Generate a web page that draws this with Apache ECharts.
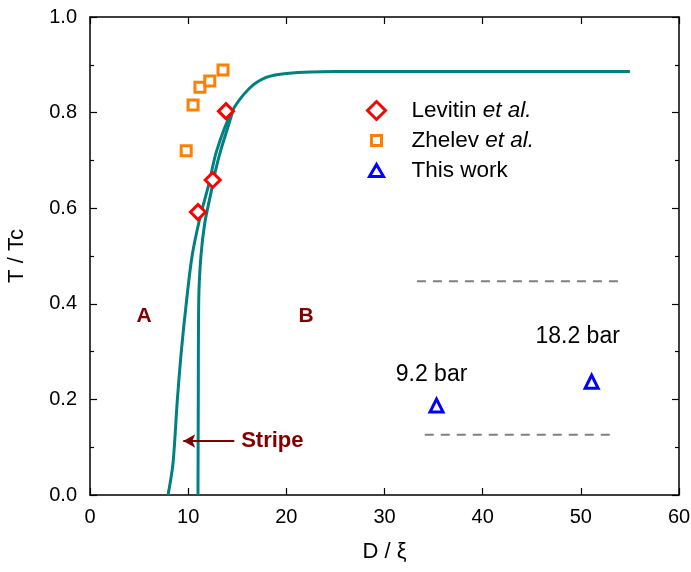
<!DOCTYPE html>
<html><head><meta charset="utf-8">
<script src="https://cdn.jsdelivr.net/npm/echarts@6/dist/echarts.min.js"></script>
<style>html,body{margin:0;padding:0;background:#fff}#c{width:691px;height:572px}</style>
</head><body><div id="c"></div>
<script>
// Phase boundary curves (D/xi, T/Tc)
const curveOuter = [[7.95,0],[8.45,0.065],[8.9,0.2],[9.3,0.3],[9.8,0.4],[10.4,0.5],[11.2,0.58],[12.1,0.65],[12.9,0.72],[14.4,0.8],[16.2,0.85],[18.0,0.874],[20.0,0.882],[25.0,0.886],[55.0,0.886]];
const curveInner = [[11.0,0],[11.03,0.2],[11.08,0.41],[11.3,0.5],[11.7,0.57],[12.3,0.63],[12.8,0.68],[13.3,0.72],[13.9,0.76],[14.5,0.8]];
// Data points
const levitin = [[11.0,0.592],[12.5,0.659],[13.85,0.803]];
const zhelev = [[9.8,0.72],[10.5,0.816],[11.2,0.853],[12.2,0.866],[13.55,0.889]];
const thisWork = [[35.3,0.187],[51.1,0.237]];
const thisWorkLabels = ['9.2 bar','18.2 bar'];
// Dashed reference lines
const dashUpper = [[33.3,0.447],[54.1,0.447]];
const dashLower = [[34.1,0.126],[53.6,0.126]];
// Annotations
const regionLabels = [{name:'A',value:[5.5,0.374]},{name:'B',value:[22.0,0.374]}];
const stripeLabel = [{name:'Stripe',value:[15.4,0.113]}];
const stripeArrow = [[14.7,0.113],[9.5,0.113]];
const legendNames = ['Levitin','Zhelev','This work'];

const font = 'Liberation Sans, Arial, sans-serif';
const chart = echarts.init(document.getElementById('c'), null, {renderer:'canvas'});
const axisCommon = {
  axisLine:{show:true,onZero:false,lineStyle:{color:'#000',width:1.5}},
  axisTick:{show:true,inside:true,length:7,lineStyle:{color:'#000',width:1.2}},
  splitLine:{show:false}
};
const legendRich = {
  n:{fontFamily:font,fontSize:22.5,color:'#000'},
  i:{fontFamily:font,fontSize:22.5,color:'#000',fontStyle:'italic'}
};
function mkLegend(name, left, top, w, h, pad){
  return {
    orient:'vertical', left:left, top:top, itemWidth:w, itemHeight:h, padding:0,
    selectedMode:false,
    data:[name],
    itemStyle:{borderWidth:3},
    formatter:function(n){
      if(n==='Levitin') return '{n|Levitin }{i|et al.}';
      if(n==='Zhelev') return '{n|Zhelev }{i|et al.}';
      return '{n|This work}';
    },
    textStyle:{padding:[0,0,0,pad],rich:legendRich}
  };
}
chart.setOption({
  animation:false,
  grid:{left:90,right:12,top:17,bottom:77,containLabel:false,outerBoundsMode:'none'},
  legend:[
    mkLegend(legendNames[0],366,99,18,18,21),
    mkLegend(legendNames[1],370,129,10,10,25),
    mkLegend(legendNames[2],368,159,14,12,23)
  ],
  xAxis:[
    Object.assign({type:'value',min:0,max:60,interval:10,position:'bottom',
      name:'D / ξ',nameLocation:'middle',nameGap:46,
      nameTextStyle:{fontFamily:font,fontSize:22,color:'#000'},
      axisLabel:{fontFamily:font,fontSize:20,color:'#000',margin:12},
      minorTick:{show:false}},axisCommon),
    Object.assign({type:'value',min:0,max:60,interval:10,position:'top',
      axisLabel:{show:false}},axisCommon)
  ],
  yAxis:[
    Object.assign({type:'value',min:0,max:1,interval:0.2,position:'left',
      name:'T / Tc',nameLocation:'middle',nameGap:62,nameRotate:90,
      nameTextStyle:{fontFamily:font,fontSize:22,color:'#000'},
      axisLabel:{fontFamily:font,fontSize:20,color:'#000',margin:13,formatter:v=>v.toFixed(1)},
      minorTick:{show:true,splitNumber:2,length:4,lineStyle:{color:'#000',width:1.2}}},axisCommon),
    Object.assign({type:'value',min:0,max:1,interval:0.2,position:'right',
      axisLabel:{show:false},
      minorTick:{show:true,splitNumber:2,length:4,lineStyle:{color:'#000',width:1.2}}},axisCommon)
  ],
  series:[
    {type:'line',data:curveOuter,smooth:0.3,symbol:'none',lineStyle:{color:'#008080',width:3},z:2},
    {type:'line',data:curveInner,smooth:0.3,symbol:'none',lineStyle:{color:'#008080',width:3},z:2},
    {type:'line',data:dashUpper,symbol:'none',lineStyle:{color:'#808080',width:2,type:[9,7]}},
    {type:'line',data:dashLower,symbol:'none',lineStyle:{color:'#808080',width:2,type:[9,7]}},
    {name:'Levitin',type:'scatter',data:levitin,symbol:'diamond',symbolSize:15,
      itemStyle:{color:'#fff',borderColor:'#ff0000',borderWidth:3,opacity:1},z:5},
    {name:'Zhelev',type:'scatter',data:zhelev,symbol:'rect',symbolSize:10,
      itemStyle:{color:'#fff',borderColor:'#ff8000',borderWidth:3,opacity:1},z:5},
    {name:'This work',type:'scatter',data:thisWork.map((p,i)=>({value:p,label:{formatter:thisWorkLabels[i],offset:i===0?[-5,2]:[-14,-13]}})),
      symbol:'triangle',symbolSize:13,
      itemStyle:{color:'#fff',borderColor:'#0000ff',borderWidth:3,opacity:1},z:5,
      label:{show:true,position:'top',distance:13,fontFamily:font,fontSize:23,color:'#000'}},
    {type:'scatter',data:regionLabels,symbolSize:0,silent:true,itemStyle:{opacity:1},
      label:{show:true,position:'inside',formatter:'{b}',fontFamily:font,fontSize:21,fontWeight:'bold',color:'#800000'}},
    {type:'scatter',data:stripeLabel,symbolSize:0,silent:true,itemStyle:{opacity:1},
      label:{show:true,position:'right',distance:0,formatter:'{b}',fontFamily:font,fontSize:22,fontWeight:'bold',color:'#800000'},
      markLine:{silent:true,symbol:['none','arrow'],symbolSize:[10,12],label:{show:false},
        lineStyle:{color:'#800000',width:2,type:'solid'},
        data:[[{coord:stripeArrow[0]},{coord:stripeArrow[1]}]]}}
  ]
});
</script></body></html>
